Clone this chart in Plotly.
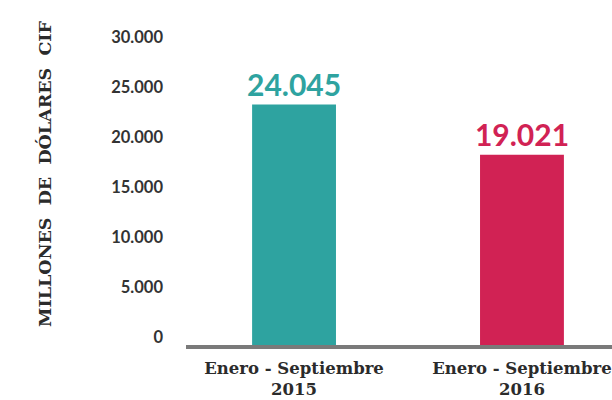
import plotly.graph_objects as go

# datos
periodos = ["Enero - Septiembre<br>2015", "Enero - Septiembre<br>2016"]
valores = [24045, 19021]
etiquetas = ["24.045", "19.021"]
colores = ["#2ea3a0", "#d12254"]
ticks_y = [0, 5000, 10000, 15000, 20000, 25000, 30000]
ticks_y_txt = ["0", "5.000", "10.000", "15.000", "20.000", "25.000", "30.000"]

fig = go.Figure()

fig.add_trace(go.Bar(
    x=periodos,
    y=valores,
    marker=dict(color=colores, line=dict(width=0)),
    width=0.368,
    text=etiquetas,
    textposition="outside",
    constraintext="none",
    cliponaxis=False,
    textfont=dict(family="Lato", size=30, color=colores, weight="bold"),
    hoverinfo="skip",
))

fig.update_layout(
    width=612,
    height=400,
    margin=dict(l=186, r=0, t=40, b=55),
    paper_bgcolor="white",
    plot_bgcolor="white",
    showlegend=False,
    xaxis=dict(
        type="category",
        range=[-0.474, 1.395],
        automargin=False,
        showline=True,
        linecolor="#7a7a7a",
        linewidth=4,
        showgrid=False,
        ticks="",
        ticklabelstandoff=5,
        tickfont=dict(family="DejaVu Serif", size=16.5, color="#2b2b2b", weight="bold"),
    ),
    yaxis=dict(
        range=[0, 30500],
        automargin=False,
        tickvals=ticks_y,
        ticktext=ticks_y_txt,
        showgrid=False,
        zeroline=False,
        showline=False,
        ticks="",
        ticklabelstandoff=22,
        ticklabelshift=-8,
        tickfont=dict(family="Lato", size=16.5, color="#333333", weight="bold"),
    ),
    annotations=[dict(
        text="MILLONES\u00a0\u00a0DE\u00a0\u00a0DÓLARES\u00a0\u00a0CIF",
        xref="paper", yref="paper",
        x=-0.331, y=0.561,
        xanchor="center", yanchor="middle",
        textangle=-90,
        showarrow=False,
        font=dict(family="DejaVu Serif", size=17.5, color="#2b2b2b", weight="bold"),
    )],
)

# quitar el margen del body para que la figura quede en (0, 0)
fig.write_html("out.html", config={"displayModeBar": False},
               post_script="document.body.style.margin='0';")
